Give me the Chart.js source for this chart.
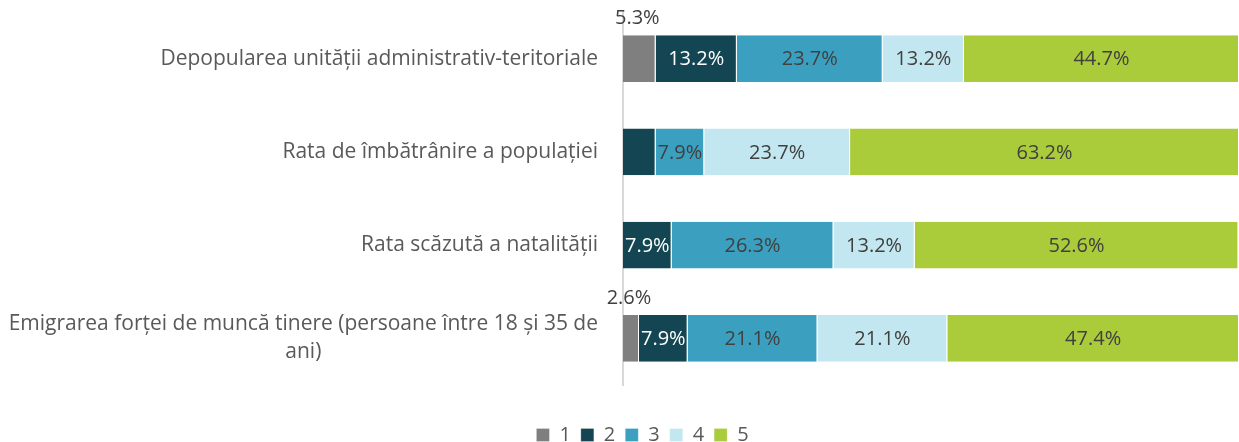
<!DOCTYPE html>
<html>
<head>
<meta charset="utf-8">
<script src="https://cdn.jsdelivr.net/npm/chart.js@4/dist/chart.umd.min.js"></script>
<style>
  html, body { margin: 0; padding: 0; background: #fff; }
  #wrap { width: 1239px; height: 442px; position: relative; }
</style>
</head>
<body>
<div id="wrap"><canvas id="c"></canvas></div>
<script>
const categories = [
  ["Depopularea unității administrativ-teritoriale"],
  ["Rata de îmbătrânire a populației"],
  ["Rata scăzută a natalității"],
  ["Emigrarea forței de muncă tinere (persoane între 18 și 35 de", "ani)"]
];
const seriesNames = ["1", "2", "3", "4", "5"];
const series1 = [5.3, 0, 0, 2.6];
const series2 = [13.2, 5.3, 7.9, 7.9];
const series3 = [23.7, 7.9, 26.3, 21.1];
const series4 = [13.2, 23.7, 13.2, 21.1];
const series5 = [44.7, 63.2, 52.6, 47.4];
// labels not shown in the reference (series index, category index)
const hiddenLabels = [[1, 1]];

const colors = ["#7F7F7F", "#134652", "#3BA0BF", "#C2E7F0", "#AACB3A"];
const labelColors = ["#404040", "#FFFFFF", "#404040", "#404040", "#404040"];
const FONT = "'Open Sans'";
const FS_CAT = 21;
const FS_VAL = 20;
const FS_LEG = 20;
const TEXT = "#595959";

const allSeries = [series1, series2, series3, series4, series5];

const labelPlugin = {
  id: 'barLabels',
  afterDatasetsDraw(chart) {
    const ctx = chart.ctx;
    ctx.save();
    ctx.font = FS_VAL + "px " + FONT;
    ctx.textBaseline = "middle";
    ctx.textAlign = "center";
    chart.data.datasets.forEach((ds, di) => {
      const meta = chart.getDatasetMeta(di);
      meta.data.forEach((bar, i) => {
        const v = ds.data[i];
        if (!v) return;
        if (hiddenLabels.some(h => h[0] === di && h[1] === i)) return;
        const txt = v.toFixed(1) + "%";
        const xc = (bar.x + bar.base) / 2;
        if (di === 0) {
          ctx.fillStyle = labelColors[0];
          ctx.fillText(txt, xc - 2, bar.y - bar.height / 2 - 17);
        } else {
          ctx.fillStyle = labelColors[di];
          ctx.fillText(txt, xc, bar.y + 1);
        }
      });
    });
    ctx.restore();
  }
};

const catLabelPlugin = {
  id: 'catLabels',
  afterDraw(chart) {
    const ctx = chart.ctx;
    const ys = chart.scales.y;
    const right = ys.right - 25;
    const lh = 28;
    ctx.save();
    ctx.font = FS_CAT + "px " + FONT;
    ctx.fillStyle = TEXT;
    ctx.textBaseline = "middle";
    ctx.textAlign = "center";
    categories.forEach((lines, i) => {
      const yc = ys.getPixelForValue(i);
      const w = Math.max(...lines.map(l => ctx.measureText(l).width));
      const cx = right - w / 2;
      lines.forEach((l, k) => {
        const y = yc + (k - (lines.length - 1) / 2) * lh;
        ctx.fillText(l, cx, y);
      });
    });
    ctx.restore();
  }
};

new Chart(document.getElementById('c'), {
  type: 'bar',
  data: {
    labels: categories.map(c => c.join(" ")),
    datasets: allSeries.map((s, i) => ({
      label: seriesNames[i],
      data: s,
      backgroundColor: colors[i],
      borderColor: "#FFFFFF",
      borderWidth: {top: 0, bottom: 0, left: 0, right: 1},
      borderSkipped: false,
      categoryPercentage: 1.0,
      barPercentage: 0.5
    }))
  },
  options: {
    indexAxis: 'y',
    responsive: true,
    maintainAspectRatio: false,
    animation: false,
    layout: { padding: { top: 12, right: 0, left: 46, bottom: -13 } },
    scales: {
      x: {
        stacked: true,
        min: 0,
        max: 100.1,
        display: true,
        ticks: { display: false },
        grid: { display: false, drawTicks: false },
        border: { display: false },
        afterFit: s => { s.height = 30; }
      },
      y: {
        stacked: true,
        ticks: { display: false },
        grid: { display: false, drawTicks: false },
        border: { display: true, color: "#D9D9D9", width: 2 },
        afterFit: s => { s.width = 577; }
      }
    },
    plugins: {
      tooltip: { enabled: false },
      legend: {
        position: 'bottom',
        labels: {
          boxWidth: 13,
          boxHeight: 13,
          padding: 10,
          color: TEXT,
          font: { family: "Open Sans", size: FS_LEG }
        }
      }
    }
  },
  plugins: [labelPlugin, catLabelPlugin]
});
</script>
</body>
</html>
